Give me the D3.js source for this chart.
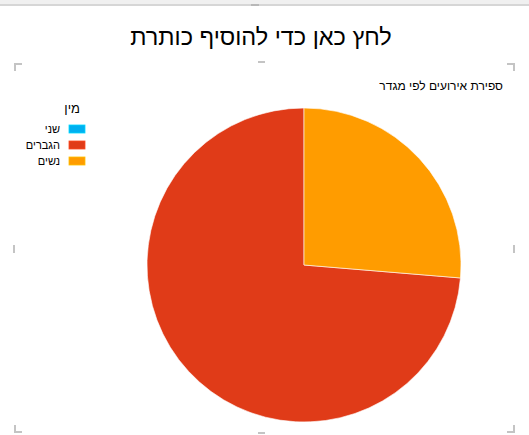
<!DOCTYPE html>
<html><head><meta charset="utf-8">
<script src="https://cdn.jsdelivr.net/npm/d3@7"></script>
<style>html,body{margin:0;padding:0;background:#fff;overflow:hidden}svg{display:block}</style>
</head><body>
<script>
const title = "לחץ כאן כדי להוסיף כותרת";
const subtitle = "ספירת אירועים לפי מגדר";
const legendTitle = "מין";
const categories = ["שני", "הגברים", "נשים"];
const values = [0, 14, 5];
const colors = ["#00b0f0", "#e03b18", "#ff9c00"];

const W = 529, H = 435;
const svg = d3.select("body").append("svg").attr("width", W).attr("height", H);
const font = "'Liberation Sans', Arial, 'DejaVu Sans', sans-serif";

// top bar
svg.append("rect").attr("x",0).attr("y",0).attr("width",W).attr("height",4).attr("fill","#f0f0f0");
svg.append("rect").attr("x",0).attr("y",4).attr("width",W).attr("height",2).attr("fill","#d6d6d6");
svg.append("rect").attr("x",251).attr("y",4).attr("width",8).attr("height",2).attr("fill","#b8b8b8");

// frame handles
const hc = "#c4c4c4";
const marks = [
  [14,63,8,2],[14,63,2,8],
  [507,63,8,2],[513,63,2,8],
  [14,425,2,8],[14,431,8,2],
  [513,425,2,8],[507,431,8,2],
  [258,61,7,2],[258,432,7,2],
  [13,245,2,8],[513,245,2,8]
];
svg.selectAll("rect.h").data(marks).join("rect").attr("class","h")
  .attr("x",d=>d[0]).attr("y",d=>d[1]).attr("width",d=>d[2]).attr("height",d=>d[3]).attr("fill",hc);

// title
svg.append("text").attr("x",261).attr("y",45).attr("text-anchor","middle")
  .attr("font-family",font).attr("font-size",23.5).attr("fill","#000").text(title);
svg.append("text").attr("x",503).attr("y",90).attr("text-anchor","end")
  .attr("font-family",font).attr("font-size",12).attr("fill","#000").text(subtitle);

// pie
const cx = 304, cy = 265, r = 157;
const pie = d3.pie().sort(null).value(d=>d).startAngle(0).endAngle(-2*Math.PI);
const arc = d3.arc().innerRadius(0).outerRadius(r);
const color = d3.scaleOrdinal().domain(categories).range(colors);
svg.append("g").attr("transform",`translate(${cx},${cy})`)
  .selectAll("path").data(pie(values)).join("path")
  .attr("d",arc).attr("fill",(d,i)=>color(categories[i]))
  .attr("stroke","#fff").attr("stroke-width",(d)=>d.value>0?1:0).attr("stroke-opacity",0.6);

// legend
svg.append("text").attr("x",80).attr("y",113).attr("text-anchor","end")
  .attr("font-family",font).attr("font-size",13).attr("fill","#000").text(legendTitle);
const y = d3.scalePoint().domain(categories).range([129,161]);
const lg = svg.append("g").selectAll("g").data(categories).join("g")
  .attr("transform",d=>`translate(0,${y(d)})`);
lg.append("rect").attr("x",69).attr("y",-4).attr("width",16).attr("height",8)
  .attr("fill",d=>color(d)).attr("stroke",d=>d3.color(color(d)).brighter(0.6)).attr("stroke-width",0.8);
lg.append("text").attr("x",60).attr("y",4).attr("text-anchor","end")
  .attr("font-family",font).attr("font-size",11).attr("fill","#000").text(d=>d);
</script>
</body></html>
